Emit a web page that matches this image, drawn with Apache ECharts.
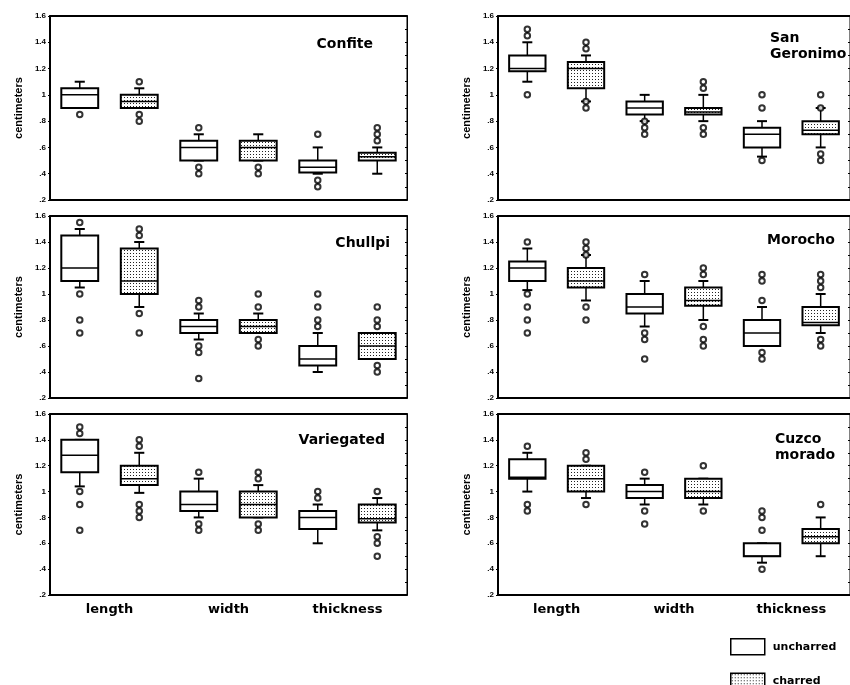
<!DOCTYPE html>
<html>
<head>
<meta charset="utf-8">
<title>Maize kernel dimensions</title>
<script src="https://cdn.jsdelivr.net/npm/echarts@6/dist/echarts.min.js"></script>
<style>
  html, body { margin: 0; padding: 0; background: #fff; }
  #main { width: 850px; height: 685px; }
</style>
</head>
<body>
<div id="main"></div>
<script>
// measures and groups
var measures = ["length", "width", "thickness"];
var groups = ["uncharred", "charred"];
// one slot per box: length-u, length-c, width-u, width-c, thickness-u, thickness-c
var slots = ["length u", "length c", "width u", "width c", "thickness u", "thickness c"];
var panelNames = ["Confite", "San\nGeronimo", "Chullpi", "Morocho", "Variegated", "Cuzco\nmorado"];

// box rows: [min, Q1, median, Q3, max] in slot order
var confiteBoxes = [
    [0.9, 0.9, 1.0, 1.05, 1.1],
    [0.9, 0.9, 0.95, 1.0, 1.05],
    [0.5, 0.5, 0.6, 0.65, 0.7],
    [0.5, 0.5, 0.6, 0.65, 0.7],
    [0.4, 0.41, 0.45, 0.5, 0.6],
    [0.4, 0.5, 0.53, 0.56, 0.6]
];
var confiteOutliers = [[0, 0.85], [1, 1.1], [1, 0.85], [1, 0.8], [2, 0.75], [2, 0.45], [2, 0.4],
    [3, 0.45], [3, 0.4], [4, 0.7], [4, 0.35], [4, 0.3], [5, 0.75], [5, 0.7], [5, 0.65]];

var sanGeronimoBoxes = [
    [1.1, 1.18, 1.2, 1.3, 1.4],
    [0.95, 1.05, 1.2, 1.25, 1.3],
    [0.8, 0.85, 0.9, 0.95, 1.0],
    [0.8, 0.85, 0.87, 0.9, 1.0],
    [0.53, 0.6, 0.7, 0.75, 0.8],
    [0.6, 0.7, 0.73, 0.8, 0.9]
];
var sanGeronimoOutliers = [[0, 1.5], [0, 1.45], [0, 1.0], [1, 1.4], [1, 1.35], [1, 0.95], [1, 0.9],
    [2, 0.8], [2, 0.75], [2, 0.7], [3, 1.1], [3, 1.05], [3, 0.75], [3, 0.7], [4, 1.0], [4, 0.9], [4, 0.5],
    [5, 1.0], [5, 0.9], [5, 0.55], [5, 0.5]];

var chullpiBoxes = [
    [1.05, 1.1, 1.2, 1.45, 1.5],
    [0.9, 1.0, 1.1, 1.35, 1.4],
    [0.65, 0.7, 0.75, 0.8, 0.85],
    [0.7, 0.7, 0.75, 0.8, 0.85],
    [0.4, 0.45, 0.5, 0.6, 0.7],
    [0.5, 0.5, 0.6, 0.7, 0.7]
];
var chullpiOutliers = [[0, 1.55], [0, 1.0], [0, 0.8], [0, 0.7], [1, 1.5], [1, 1.45], [1, 0.85], [1, 0.7],
    [2, 0.95], [2, 0.9], [2, 0.6], [2, 0.55], [2, 0.35], [3, 1.0], [3, 0.9], [3, 0.65], [3, 0.6],
    [4, 1.0], [4, 0.9], [4, 0.8], [4, 0.75], [5, 0.9], [5, 0.8], [5, 0.75], [5, 0.45], [5, 0.4]];

var morochoBoxes = [
    [1.03, 1.1, 1.2, 1.25, 1.35],
    [0.95, 1.05, 1.1, 1.2, 1.3],
    [0.75, 0.85, 0.9, 1.0, 1.1],
    [0.8, 0.91, 0.95, 1.05, 1.1],
    [0.6, 0.6, 0.7, 0.8, 0.9],
    [0.7, 0.76, 0.78, 0.9, 1.0]
];
var morochoOutliers = [[0, 1.4], [0, 1.0], [0, 0.9], [0, 0.8], [0, 0.7], [1, 1.4], [1, 1.35], [1, 1.3],
    [1, 0.9], [1, 0.8], [2, 1.15], [2, 0.7], [2, 0.65], [2, 0.5], [3, 1.2], [3, 1.15], [3, 0.75], [3, 0.65],
    [3, 0.6], [4, 1.15], [4, 1.1], [4, 0.95], [4, 0.55], [4, 0.5], [5, 1.15], [5, 1.1], [5, 1.05],
    [5, 0.65], [5, 0.6]];

var variegatedBoxes = [
    [1.04, 1.15, 1.28, 1.4, 1.4],
    [0.99, 1.05, 1.1, 1.2, 1.3],
    [0.8, 0.85, 0.9, 1.0, 1.1],
    [0.8, 0.8, 0.9, 1.0, 1.05],
    [0.6, 0.71, 0.8, 0.85, 0.9],
    [0.7, 0.76, 0.79, 0.9, 0.95]
];
var variegatedOutliers = [[0, 1.5], [0, 1.45], [0, 1.0], [0, 0.9], [0, 0.7], [1, 1.4], [1, 1.35], [1, 0.9],
    [1, 0.85], [1, 0.8], [2, 1.15], [2, 0.75], [2, 0.7], [3, 1.15], [3, 1.1], [3, 0.75], [3, 0.7],
    [4, 1.0], [4, 0.95], [5, 1.0], [5, 0.65], [5, 0.6], [5, 0.5]];

var cuzcoBoxes = [
    [1.0, 1.1, 1.11, 1.25, 1.3],
    [0.95, 1.0, 1.1, 1.2, 1.2],
    [0.9, 0.95, 1.0, 1.05, 1.1],
    [0.9, 0.95, 1.0, 1.1, 1.1],
    [0.45, 0.5, 0.5, 0.6, 0.6],
    [0.5, 0.6, 0.65, 0.71, 0.8]
];
var cuzcoOutliers = [[0, 1.35], [0, 0.9], [0, 0.85], [1, 1.3], [1, 1.25], [1, 0.9], [2, 1.15], [2, 0.85],
    [2, 0.75], [3, 1.2], [3, 0.85], [4, 0.85], [4, 0.8], [4, 0.7], [4, 0.4], [5, 0.9]];

var panelBoxes = [confiteBoxes, sanGeronimoBoxes, chullpiBoxes, morochoBoxes, variegatedBoxes, cuzcoBoxes];
var panelOutliers = [confiteOutliers, sanGeronimoOutliers, chullpiOutliers, morochoOutliers, variegatedOutliers, cuzcoOutliers];

// layout
var gridLefts = [50, 498];
var gridTops = [16, 216, 414];
var gridHeights = [184, 182, 181];
var titlePos = [
    { right: 472, top: 31 }, { left: 765, top: 25 },
    { right: 455, top: 230 }, { left: 762, top: 227 },
    { right: 460, top: 427 }, { left: 770, top: 426 }
];

var textFont = "DejaVu Sans";
var smallFont = "Liberation Sans";

// dotted fill for charred boxes
var dots = document.createElement("canvas");
dots.width = 3;
dots.height = 3;
var dctx = dots.getContext("2d");
dctx.fillStyle = "#fff";
dctx.fillRect(0, 0, 3, 3);
dctx.fillStyle = "#222";
dctx.fillRect(1, 1, 1, 1);
var dotPattern = { image: dots, repeat: "repeat" };

function renderBox(params, api) {
    var x = api.value(0);
    var lo = api.coord([x, api.value(1)]);
    var q1 = api.coord([x, api.value(2)]);
    var md = api.coord([x, api.value(3)]);
    var q3 = api.coord([x, api.value(4)]);
    var hi = api.coord([x, api.value(5)]);
    var band = api.size([1, 0])[0];
    var w = band * 0.62;
    var cap = band * 0.17;
    var cx = lo[0];
    function seg(x1, y1, x2, y2, lw) {
        return { type: "line", shape: { x1: x1, y1: y1, x2: x2, y2: y2 }, style: { stroke: "#000", lineWidth: lw || 1.5 } };
    }
    return {
        type: "group",
        children: [
            seg(cx, hi[1], cx, q3[1]),
            seg(cx - cap / 2, hi[1], cx + cap / 2, hi[1], 2),
            seg(cx, q1[1], cx, lo[1]),
            seg(cx - cap / 2, lo[1], cx + cap / 2, lo[1], 2),
            {
                type: "rect",
                shape: { x: cx - w / 2, y: q3[1], width: w, height: q1[1] - q3[1] },
                style: { fill: params.seriesName === "charred" ? dotPattern : "#fff", stroke: "#000", lineWidth: 2 }
            },
            seg(cx - w / 2, md[1], cx + w / 2, md[1], 1.5)
        ]
    };
}

var grids = [], xAxes = [], yAxes = [], series = [], titles = [];

for (var i = 0; i < 6; i++) {
    var col = i % 2, row = Math.floor(i / 2);
    grids.push({
        left: gridLefts[col], top: gridTops[row], width: 357, height: gridHeights[row],
        show: true, borderColor: "#000", borderWidth: 1
    });
    // bottom axis carrying the boxes
    xAxes.push({
        type: "category", gridIndex: i, data: slots, position: "bottom",
        axisLine: { lineStyle: { color: "#000", width: 2 } },
        axisTick: { alignWithLabel: true, length: 3, lineStyle: { color: "#000", width: 1.5 } },
        axisLabel: { show: false }, splitLine: { show: false }
    });
    // top frame with ticks
    xAxes.push({
        type: "category", gridIndex: i, data: slots, position: "top",
        axisLine: { lineStyle: { color: "#000", width: 2 } },
        axisTick: { alignWithLabel: true, length: 3, lineStyle: { color: "#000", width: 1.5 } },
        axisLabel: { show: false }, splitLine: { show: false }
    });
    // measure names under the bottom row
    xAxes.push({
        type: "category", gridIndex: i, data: measures, position: "bottom",
        axisLine: { show: false }, axisTick: { show: false }, splitLine: { show: false },
        axisLabel: {
            show: row === 2, margin: 8, color: "#000",
            fontFamily: textFont, fontWeight: "bold", fontSize: 13
        }
    });
    yAxes.push({
        type: "value", gridIndex: i, min: 0.2, max: 1.6, interval: 0.2,
        name: "centimeters", nameLocation: "middle", nameGap: 26,
        nameTextStyle: { fontFamily: smallFont, fontWeight: "bold", fontSize: 11, color: "#000" },
        axisLine: { show: true, lineStyle: { color: "#000", width: 2 } },
        axisTick: { show: true, length: 2, lineStyle: { color: "#000" } },
        splitLine: { show: false },
        axisLabel: {
            margin: 4, color: "#000", fontFamily: smallFont, fontWeight: "bold", fontSize: 8,
            formatter: function (v) { return String(+v.toFixed(1)).replace(/^0/, ""); }
        }
    });
    yAxes.push({
        type: "value", gridIndex: i, min: 0.2, max: 1.6, interval: 0.1, position: "right",
        axisLine: { show: true, lineStyle: { color: "#000", width: 1 } },
        axisTick: { show: true, inside: true, length: 2, lineStyle: { color: "#000" } },
        axisLabel: { show: false }, splitLine: { show: false }
    });

    var boxes = panelBoxes[i];
    for (var g = 0; g < groups.length; g++) {
        var rows = [];
        for (var k = g; k < boxes.length; k += 2) {
            rows.push([k].concat(boxes[k]));
        }
        series.push({
            type: "custom", name: groups[g], xAxisIndex: 3 * i, yAxisIndex: 2 * i,
            renderItem: renderBox, data: rows,
            encode: { x: 0, y: [1, 2, 3, 4, 5] },
            itemStyle: { color: g ? dotPattern : "#fff", borderColor: "#000" }
        });
    }
    series.push({
        type: "scatter", name: "outliers", xAxisIndex: 3 * i, yAxisIndex: 2 * i,
        symbol: "emptyCircle", symbolSize: 5.5,
        itemStyle: { color: "#000", borderWidth: 1.6 },
        data: panelOutliers[i], z: 5
    });

    var t = {
        text: panelNames[i],
        top: titlePos[i].top,
        textStyle: { fontFamily: textFont, fontWeight: "bold", fontSize: 14, color: "#000", lineHeight: 16 }
    };
    if (titlePos[i].left != null) { t.left = titlePos[i].left; } else { t.right = titlePos[i].right; }
    titles.push(t);
}

var chart = echarts.init(document.getElementById("main"), null, { renderer: "canvas" });
chart.setOption({
    animation: false,
    backgroundColor: "#fff",
    title: titles,
    grid: grids,
    xAxis: xAxes,
    yAxis: yAxes,
    legend: {
        orient: "vertical", left: 725, top: 633, height: 80, icon: "rect",
        itemWidth: 34, itemHeight: 16, itemGap: 17, selectedMode: false,
        textStyle: { fontFamily: textFont, fontWeight: "bold", fontSize: 11, color: "#000", padding: [0, 0, 0, 3] },
        data: [
            { name: "uncharred", itemStyle: { color: "#fff", borderColor: "#000", borderWidth: 1.5 } },
            { name: "charred", itemStyle: { color: dotPattern, borderColor: "#000", borderWidth: 1.5 } }
        ]
    },
    series: series
});
</script>
</body>
</html>
